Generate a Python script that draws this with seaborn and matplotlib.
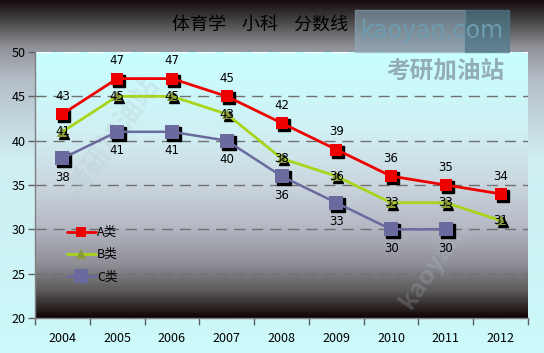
import numpy as np
import pandas as pd
import matplotlib
matplotlib.use("Agg")
import matplotlib.pyplot as plt
import matplotlib.transforms as mtransforms
from matplotlib.colors import LinearSegmentedColormap
from matplotlib.lines import Line2D
import seaborn as sns

years = ["2004", "2005", "2006", "2007", "2008", "2009", "2010", "2011", "2012"]
a_vals = [43, 47, 47, 45, 42, 39, 36, 35, 34]
b_vals = [41, 45, 45, 43, 38, 36, 33, 33, 31]
c_vals = [38, 41, 41, 40, 36, 33, 30, 30, np.nan]
series_names = ["A类", "B类", "C类"]
colors = ["#ee0000", "#a8d41c", "#6a6a9e"]
title = "体育学    小科    分数线"

sns.set_theme(style="white")
plt.rcParams['font.family'] = ['Noto Sans CJK SC', 'DejaVu Sans']
plt.rcParams['text.color'] = 'black'
plt.rcParams['xtick.color'] = 'black'
plt.rcParams['ytick.color'] = 'black'
plt.rcParams['xtick.labelcolor'] = 'black'
plt.rcParams['ytick.labelcolor'] = 'black'

fig = plt.figure(figsize=(5.44, 3.53), dpi=100)

# figure background gradient
bg = fig.add_axes([0, 0, 1, 1], zorder=-10)
bg.axis("off")
fig_cmap = LinearSegmentedColormap.from_list("figbg", [
    (0.0, "#140c0c"), (0.06, "#4a4848"), (0.13, "#8e9096"),
    (0.22, "#b4bcc6"), (0.45, "#cfeef2"), (1.0, "#ccfafa")])
grad = np.linspace(0, 1, 256).reshape(-1, 1)
bg.imshow(grad, aspect="auto", cmap=fig_cmap, extent=[0, 1, 0, 1], origin="upper")
bg.set_xlim(0, 1); bg.set_ylim(0, 1)

ax = fig.add_axes([35/544, 1 - 318/353, 493/544, 266/353])
ax.set_facecolor("none")
plot_cmap = LinearSegmentedColormap.from_list("plotbg", [
    (0.0, "#c8ffff"), (0.3, "#d0f0f4"), (0.5, "#cad6de"), (0.65, "#b6bac6"),
    (0.8, "#8e8e96"), (0.9, "#5a5858"), (1.0, "#100404")])
ax.imshow(grad, aspect="auto", cmap=plot_cmap, extent=[0, 1, 0, 1],
          origin="upper", transform=ax.transAxes, zorder=0)

df = pd.DataFrame({
    "value": a_vals + b_vals + c_vals,
    "series": [series_names[0]] * 9 + [series_names[1]] * 9 + [series_names[2]] * 9,
})
df["x"] = list(range(9)) * 3

# gridlines
for v in [25, 30, 35, 40, 45]:
    ax.axhline(v, color="#707070", lw=1.0, ls=(0, (8, 5)), zorder=1)
ax.axhline(50, color="white", lw=1.5, ls=(0, (8, 5)), zorder=1)

# faint diagonal watermarks inside plot
ax.text(0.16, 0.68, "考研加油站", transform=ax.transAxes, ha="center", va="center",
        fontsize=20, color="#b8c8d0", alpha=0.3, rotation=55, fontweight="bold", zorder=2)
ax.text(0.84, 0.28, "kaoyan.com", transform=ax.transAxes, ha="center", va="center",
        fontsize=18, color="#b8c8d0", alpha=0.22, rotation=55, fontweight="bold", zorder=2)

# shadows for markers
shadow = mtransforms.offset_copy(ax.transData, fig=fig, x=2, y=-2, units="dots")
msizes = [8, 7, 10.5]
mks = ["s", "^", "s"]
for name, m, ms in zip(series_names, mks, msizes):
    sub = df[df["series"] == name]
    ax.plot(sub["x"], sub["value"], ls="none", marker=m, ms=ms, color="black",
            transform=shadow, zorder=3)

sns.lineplot(data=df, x="x", y="value", hue="series", style="series",
             palette=colors, markers=mks, dashes=False, ax=ax, lw=2,
             markersize=8, markeredgewidth=0, zorder=4, legend=False)
for line, ms in zip(ax.get_lines()[-3:], msizes):
    line.set_markersize(ms)
ax.get_lines()[-2].set_markerfacecolor("#8a9a3a")
ax.get_lines()[-1].set_linewidth(1.8)

# data labels
for i, v in enumerate(a_vals):
    ax.annotate(f"{v}", (i, v), xytext=(0, 8), textcoords="offset points",
                ha="center", va="bottom", fontsize=8.5, color="black", zorder=6,
                family="DejaVu Sans")
for i, v in enumerate(b_vals):
    ax.annotate(f"{v}", (i, v), xytext=(0, 0), textcoords="offset points",
                ha="center", va="center", fontsize=8.5, color="black", zorder=6,
                family="DejaVu Sans")
for i, v in enumerate(c_vals):
    if not np.isnan(v):
        ax.annotate(f"{v:.0f}", (i, v), xytext=(0, -9), textcoords="offset points",
                    ha="center", va="top", fontsize=8.5, color="black", zorder=6,
                    family="DejaVu Sans")

# legend
handles = [Line2D([], [], color=c, marker=m, ms=s, lw=2, markeredgewidth=0)
           for c, m, s in zip(colors, mks, [7, 7, 10])]
handles[1].set_markerfacecolor("#8a9a3a")
leg = ax.legend(handles, series_names, loc="lower left", bbox_to_anchor=(0.055, 0.11),
                frameon=False, fontsize=9, handlelength=2.3, handletextpad=0.1,
                labelspacing=0.75, borderaxespad=0, labelcolor="black")
leg.set_zorder(7)

ax.set_xlim(-0.5, 8.5)
ax.set_ylim(20, 50)
ax.set_yticks([20, 25, 30, 35, 40, 45, 50])
ax.set_xticks(range(9))
ax.set_xticklabels(years)
ax.set_xticks(np.arange(-0.5, 9, 1), minor=True)
ax.tick_params(axis="x", which="major", length=0, pad=10, labelsize=9)
ax.tick_params(axis="x", which="minor", length=5, color="#606060", width=1, direction="out", bottom=True)
ax.tick_params(axis="y", length=5, color="#606060", width=1, direction="out", left=True, labelsize=9, pad=2)
ax.set_xlabel(""); ax.set_ylabel("")
for s in ["top", "right"]:
    ax.spines[s].set_visible(False)
for s in ["left", "bottom"]:
    ax.spines[s].set_color("#808080")
    ax.spines[s].set_linewidth(1)

# title
fig.text(260/544, 1 - 25/353, title, ha="center", va="center", fontsize=13,
         color="black", fontweight="medium")

# top-right watermark box
fig.patches.append(plt.Rectangle((355/544, 1 - 52/353), 110/544, 42/353,
                                 transform=fig.transFigure, color="#8eaabb", alpha=0.6, zorder=5))
fig.patches.append(plt.Rectangle((465/544, 1 - 52/353), 44/544, 42/353,
                                 transform=fig.transFigure, color="#4e7a8c", alpha=0.7, zorder=5))
fig.text(432/544, 1 - 31/353, "kaoyan.com", ha="center", va="center", fontsize=17,
         color="#6e9cb0", family="DejaVu Sans", zorder=6)
fig.text(445/544, 1 - 71/353, "考研加油站", ha="center", va="center", fontsize=17,
         color="#8aa0a8", alpha=0.85, fontweight="bold", zorder=6)

fig.savefig("out.png", dpi=100)
